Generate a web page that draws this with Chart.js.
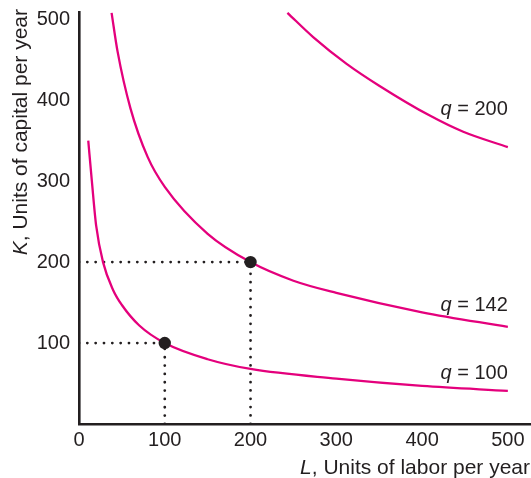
<!DOCTYPE html>
<html><head><meta charset="utf-8">
<script src="https://cdn.jsdelivr.net/npm/chart.js@4/dist/chart.umd.min.js"></script>
<style>html,body{margin:0;padding:0;background:#fff;}#wrap{width:531px;height:478px;}</style>
</head><body><div id="wrap"><canvas id="c" width="531" height="478"></canvas></div>
<script>
// ---- data ----
const xTickValues = [0, 100, 200, 300, 400, 500];
const yTickValues = [100, 200, 300, 400, 500];

const L_q100 = [10.8, 15, 20, 28, 40, 50, 70, 100, 150, 200, 300, 400, 500];
const K_q100 = [350, 300, 245, 200, 165, 147, 122, 100, 80, 68, 56, 47, 41];

const L_q142 = [38, 45, 60, 80, 100, 150, 200, 250, 300, 400, 500];
const K_q142 = [508, 460, 390, 330, 293, 235, 200, 177, 162, 138, 120];

const L_q200 = [243, 273, 312, 350, 409, 448, 500];
const K_q200 = [508, 478, 445, 418, 381, 361, 342];

const curveNames = ['100', '142', '200'];
const pointL = [100, 200];
const pointK = [100, 200];

// ---- styling / placement ----
const INK = '#231f20';
const MAGENTA = '#e4007c';
const FONT = '"Liberation Sans", Arial, Helvetica, sans-serif';
const labelPlacement = [ // right edge in L units, baseline in K units
  {L: 500, K: 55},
  {L: 500, K: 139.6},
  {L: 500, K: 381.8}
];

const zip = (xs, ys) => xs.map((x, i) => ({x: x, y: ys[i]}));
const curves = [zip(L_q100, K_q100), zip(L_q142, K_q142), zip(L_q200, K_q200)];

const datasets = [];
datasets.push({
  data: zip(pointL, pointK), showLine: false, pointRadius: 6.2, pointHoverRadius: 6.2,
  pointBackgroundColor: INK, pointBorderColor: INK, pointBorderWidth: 0, order: 0
});
curves.forEach(c => datasets.push({
  data: c, showLine: true, borderColor: MAGENTA, borderWidth: 2.3, pointRadius: 0,
  cubicInterpolationMode: 'monotone', fill: false, order: 1
}));
pointL.forEach((l, i) => datasets.push({
  data: [{x: 0, y: pointK[i]}, {x: l, y: pointK[i]}, {x: l, y: 0}],
  showLine: true, borderColor: INK, borderWidth: 2.8, borderDash: [0, 8.33],
  borderCapStyle: 'round', pointRadius: 0, tension: 0, fill: false, order: 2
}));

const zeroPad = s => { s.paddingTop = 0; s.paddingBottom = 0; s.paddingLeft = 0; s.paddingRight = 0; };

const textPlugin = {
  id: 'texts',
  afterDraw(chart) {
    const ctx = chart.ctx;
    const xs = chart.scales.x, ys = chart.scales.y;
    ctx.save();
    ctx.fillStyle = INK;
    ctx.textBaseline = 'alphabetic';
    ctx.textAlign = 'left';
    curveNames.forEach((n, i) => {
      const p = labelPlacement[i];
      const right = xs.getPixelForValue(p.L);
      const base = ys.getPixelForValue(p.K);
      ctx.font = 'italic 20px ' + FONT;
      const wq = ctx.measureText('q').width;
      ctx.font = '20px ' + FONT;
      const rest = ' = ' + n;
      const wr = ctx.measureText(rest).width;
      const start = right - wq - wr;
      ctx.font = 'italic 20px ' + FONT;
      ctx.fillText('q', start, base);
      ctx.font = '20px ' + FONT;
      ctx.fillText(rest, start + wq, base);
    });
    ctx.font = 'italic 21px ' + FONT;
    const wL = ctx.measureText('L').width;
    ctx.font = '21px ' + FONT;
    const xr = ', Units of labor per year';
    const wxr = ctx.measureText(xr).width;
    let sx = 530 - wL - wxr;
    ctx.font = 'italic 21px ' + FONT;
    ctx.fillText('L', sx, 474);
    ctx.font = '21px ' + FONT;
    ctx.fillText(xr, sx + wL, 474);
    ctx.translate(27, 9);
    ctx.rotate(-Math.PI / 2);
    ctx.font = 'italic 21px ' + FONT;
    const wK = ctx.measureText('K').width;
    ctx.font = '21px ' + FONT;
    const yr = ', Units of capital per year';
    const wyr = ctx.measureText(yr).width;
    const sy = -(wK + wyr);
    ctx.font = 'italic 21px ' + FONT;
    ctx.fillText('K', sy, 0);
    ctx.font = '21px ' + FONT;
    ctx.fillText(yr, sy + wK, 0);
    ctx.restore();
  }
};

new Chart(document.getElementById('c'), {
  type: 'scatter',
  data: {datasets: datasets},
  options: {
    responsive: false, animation: false, events: [],
    layout: {autoPadding: false, padding: {top: 12, right: 0, bottom: 0, left: 0}},
    plugins: {legend: {display: false}, tooltip: {enabled: false}},
    scales: {
      x: {
        type: 'linear', min: 0, max: 527,
        grid: {display: false, drawTicks: false},
        border: {display: true, color: INK, width: 2.6},
        afterBuildTicks: s => { s.ticks = xTickValues.map(v => ({value: v})); },
        ticks: {color: INK, font: {family: FONT, size: 20}, padding: 4, maxRotation: 0, autoSkip: false},
        afterFit: s => { s.height = 54; zeroPad(s); }
      },
      y: {
        type: 'linear', min: 0, max: 509,
        grid: {display: false, drawTicks: false},
        border: {display: true, color: INK, width: 2.6},
        afterBuildTicks: s => { s.ticks = yTickValues.map(v => ({value: v})); },
        ticks: {color: INK, font: {family: FONT, size: 20}, padding: 9, autoSkip: false},
        afterFit: s => { s.width = 79; zeroPad(s); }
      }
    }
  },
  plugins: [textPlugin]
});
</script>
</body></html>
